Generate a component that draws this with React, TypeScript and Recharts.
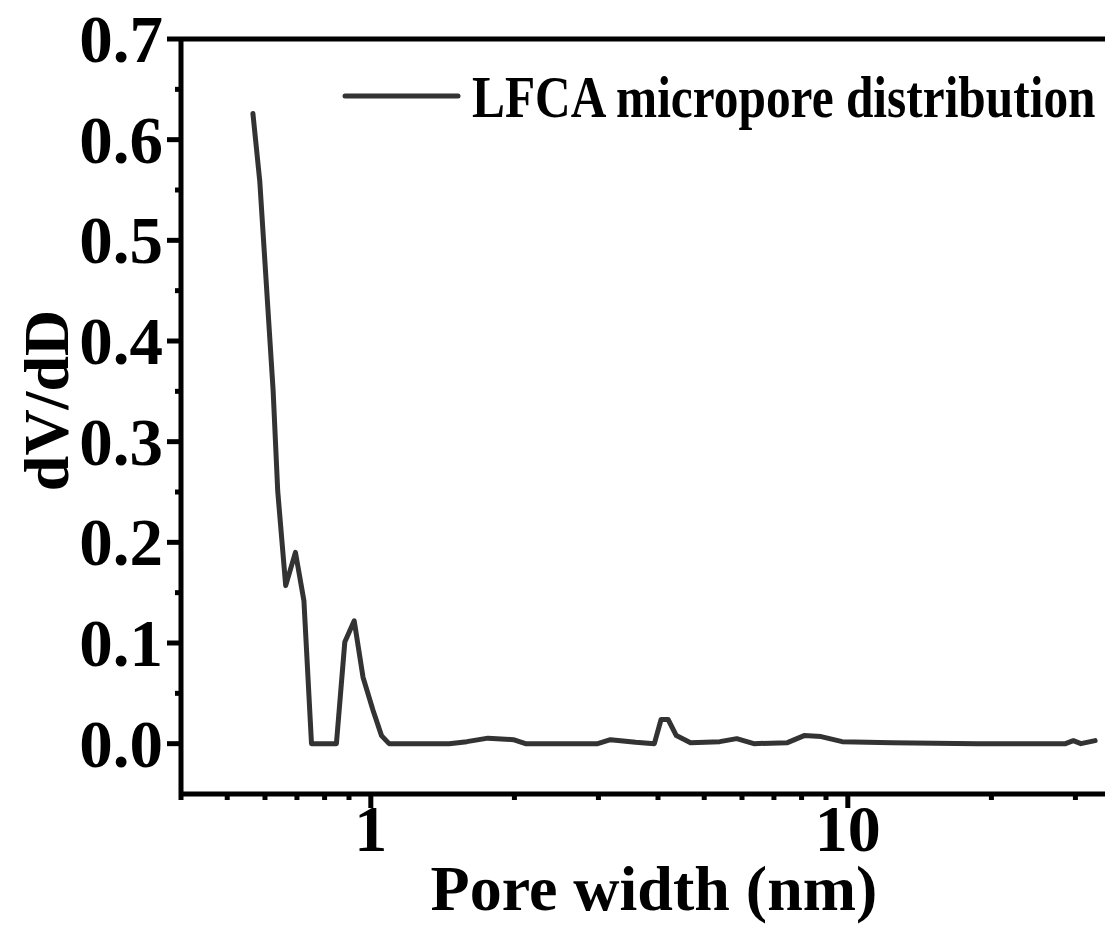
import React from "react";
import { LineChart, Line, XAxis, YAxis, Legend, ReferenceLine, Label } from "recharts";

const poreWidth = [
  0.566, 0.585, 0.624, 0.638, 0.663, 0.695, 0.724, 0.751, 0.847, 0.882, 0.923, 0.963, 1.011,
  1.053, 1.092, 1.46, 1.59, 1.76, 1.99, 2.11, 2.99, 3.18, 3.59, 3.93, 4.06, 4.2, 4.37, 4.68,
  5.39, 5.85, 6.35, 7.47, 8.1, 8.79, 9.73, 12.4, 18.7, 28.6, 29.7, 30.8, 33.0,
];
const dVdD = [
  0.626, 0.559, 0.351, 0.251, 0.157, 0.19, 0.142, 0, 0, 0.101, 0.122, 0.066, 0.033,
  0.008, 0, 0, 0.002, 0.0055, 0.004, 0, 0, 0.004, 0.0013, 0, 0.024, 0.024, 0.008, 0.001,
  0.002, 0.005, 0, 0.001, 0.008, 0.007, 0.002, 0.001, 0, 0, 0.003, 0, 0.003,
];

const xMajor = [1, 10];
const xTicks = [0.4, 0.5, 0.6, 0.7, 0.8, 0.9, 1, 2, 3, 4, 5, 6, 7, 8, 9, 10, 20, 30, 40];
const yTicks = [0, 0.05, 0.1, 0.15, 0.2, 0.25, 0.3, 0.35, 0.4, 0.45, 0.5, 0.55, 0.6, 0.65, 0.7];

const data = poreWidth.map((x, i) => ({ x, y: dVdD[i] }));

const font = '"Times New Roman", "Liberation Serif", serif';
const lineColor = "#333333";

function XTick(props: any) {
  const { x, y, payload } = props;
  const major = xMajor.includes(payload.value);
  return (
    <g>
      <line x1={x} x2={x} y1={y} y2={y + (major ? 14 : 6)} stroke="#000" strokeWidth={5} />
      {major && (
        <text x={x} y={y + 57} textAnchor="middle" fontFamily={font} fontWeight="bold" fontSize={66} fill="#000">
          {payload.value}
        </text>
      )}
    </g>
  );
}

function YTick(props: any) {
  const { x, y, payload } = props;
  const v = payload.value;
  const major = Math.abs(v * 10 - Math.round(v * 10)) < 1e-6;
  return (
    <g>
      <line x1={x - (major ? 14 : 6)} x2={x} y1={y} y2={y} stroke="#000" strokeWidth={5} />
      {major && (
        <text x={x - 18} y={y + 23} textAnchor="end" fontFamily={font} fontWeight="bold" fontSize={67} fill="#000">
          {v.toFixed(1)}
        </text>
      )}
    </g>
  );
}

function renderXLabel(props: any) {
  const vb = props.viewBox;
  return (
    <text x={vb.x + vb.width / 2 - 4} y={vb.y + 116} textAnchor="middle" fontFamily={font} fontWeight="bold" fontSize={64} fill="#000">
      Pore width (nm)
    </text>
  );
}

function renderYLabel(props: any) {
  const vb = props.viewBox;
  const cx = vb.x + 68;
  const cy = vb.y + vb.height / 2 - 16;
  return (
    <text transform={`translate(${cx}, ${cy}) rotate(-90)`} textAnchor="middle" fontFamily={font} fontWeight="bold" fontSize={64} fill="#000">
      dV/dD
    </text>
  );
}

function renderLegend() {
  // condensed bold serif, as in the original figure
  return (
    <svg width={780} height={90} style={{ display: "block" }}>
      <line x1={15} x2={128} y1={46} y2={46} stroke={lineColor} strokeWidth={5} strokeLinecap="round" />
      <text transform="translate(142, 67) scale(0.823, 1)" fontFamily={font} fontWeight="bold" fontSize={60} fill="#000">
        LFCA micropore distribution
      </text>
    </svg>
  );
}

export default function App() {
  return (
    <div style={{ width: 1113, height: 933, overflow: "hidden", margin: "-8px 0 -8px -8px", position: "relative", background: "#fff" }}>
      <LineChart width={1140} height={933} data={data} margin={{ top: 39, right: 5, bottom: 0, left: 0 }}>
        <XAxis
          dataKey="x"
          type="number"
          scale="log"
          domain={[0.4, 40]}
          allowDataOverflow
          ticks={xTicks}
          interval={0}
          tickSize={0}
          tickMargin={0}
          tickLine={false}
          tick={XTick}
          height={139}
          axisLine={{ stroke: "#000", strokeWidth: 5 }}
        >
          <Label content={renderXLabel} />
        </XAxis>
        <YAxis
          type="number"
          domain={[-0.05, 0.7]}
          allowDataOverflow
          ticks={yTicks}
          interval={0}
          tickSize={0}
          tickMargin={0}
          tickLine={false}
          tick={YTick}
          width={181}
          axisLine={{ stroke: "#000", strokeWidth: 5 }}
        >
          <Label content={renderYLabel} />
        </YAxis>
        <ReferenceLine y={0.7} stroke="#000" strokeWidth={5} />
        <Legend
          layout="horizontal"
          verticalAlign="middle"
          align="center"
          wrapperStyle={{ position: "absolute", left: 330, top: 50, width: 780, height: 90 }}
          content={renderLegend}
        />
        <Line
          dataKey="y"
          type="linear"
          stroke={lineColor}
          strokeWidth={5}
          strokeLinejoin="round"
          strokeLinecap="round"
          dot={false}
          isAnimationActive={false}
          name="LFCA micropore distribution"
        />
      </LineChart>
    </div>
  );
}
